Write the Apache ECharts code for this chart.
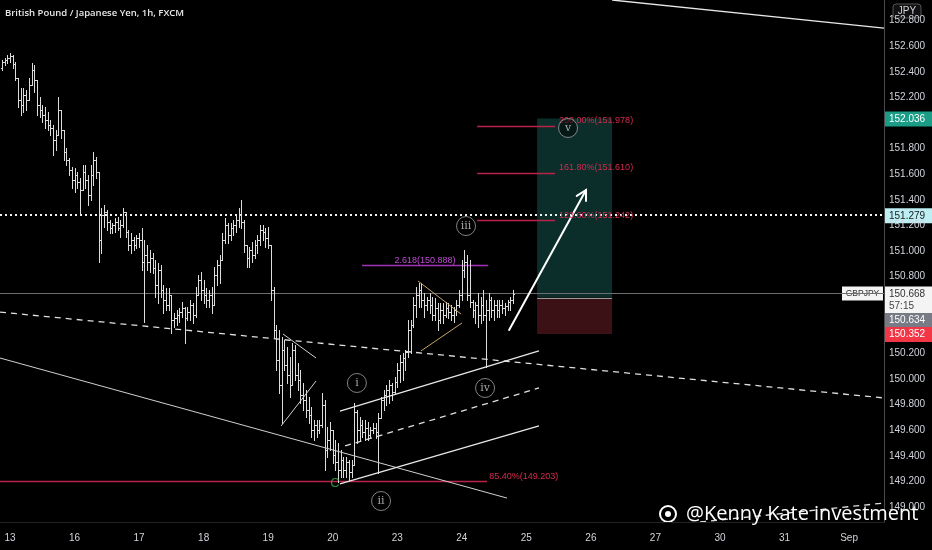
<!DOCTYPE html>
<html><head><meta charset="utf-8">
<script src="https://cdn.jsdelivr.net/npm/echarts@6/dist/echarts.min.js"></script>
<style>html,body{margin:0;padding:0;background:#000;}#c{width:932px;height:550px;}</style>
</head><body><div id="c"></div>
<script>
// ---- data (GBPJPY 1h OHLC) ----
const opens=[152.430,152.477,152.492,152.508,152.523,152.461,152.352,152.180,152.141,152.219,152.180,152.297,152.414,152.336,152.141,152.102,152.063,152.023,151.984,151.961,151.867,151.906,152.102,151.945,151.773,151.711,151.633,151.555,151.594,151.539,151.477,151.617,151.555,151.438,151.594,151.711,151.617,151.086,151.281,151.305,151.227,151.180,151.203,151.227,151.180,151.203,151.305,151.148,151.047,151.086,151.047,151.102,151.086,150.914,150.969,150.914,150.945,150.867,150.734,150.852,150.695,150.617,150.578,150.656,150.461,150.477,150.500,150.523,150.555,150.477,150.523,150.578,150.500,150.656,150.773,150.695,150.656,150.617,150.656,150.578,150.813,150.891,150.930,151.086,151.203,151.125,151.180,151.203,151.242,151.281,151.227,151.047,150.945,151.008,150.969,151.047,151.086,151.164,151.148,151.102,151.047,150.695,150.383,150.148,149.953,150.227,150.109,150.031,149.953,150.227,150.031,149.992,149.875,149.836,149.758,149.719,149.602,149.641,149.602,149.641,149.797,149.445,149.523,149.602,149.406,149.352,149.289,149.367,149.289,149.352,149.273,149.328,149.742,149.602,149.641,149.586,149.617,149.563,149.602,149.617,149.586,149.695,149.836,149.875,149.914,149.953,149.898,149.977,150.070,150.133,150.164,150.211,150.383,150.422,150.578,150.656,150.695,150.617,150.578,150.617,150.578,150.500,150.555,150.461,150.539,150.500,150.555,150.523,150.500,150.539,150.578,150.656,150.852,150.914,150.656,150.602,150.539,150.578,150.500,150.578,150.500,150.539,150.617,150.539,150.578,150.539,150.578,150.555,150.570,150.602,150.617];
const highs=[152.492,152.508,152.531,152.547,152.531,152.477,152.352,152.273,152.273,152.258,152.352,152.469,152.453,152.336,152.203,152.141,152.125,152.086,152.023,151.984,151.945,152.203,152.102,151.945,151.805,151.727,151.656,151.648,151.617,151.570,151.672,151.672,151.594,151.672,151.773,151.734,151.617,151.336,151.359,151.320,151.242,151.219,151.258,151.266,151.242,151.336,151.305,151.164,151.141,151.109,151.125,151.141,151.180,151.086,151.047,151.008,150.984,150.930,150.906,150.891,150.734,150.711,150.711,150.656,150.516,150.539,150.555,150.602,150.563,150.563,150.617,150.594,150.719,150.813,150.836,150.773,150.711,150.695,150.719,150.875,150.930,150.969,151.141,151.258,151.219,151.219,151.242,151.281,151.336,151.398,151.242,151.047,151.031,151.070,151.086,151.125,151.203,151.203,151.180,151.188,151.047,150.719,150.422,150.383,150.328,150.305,150.250,150.172,150.281,150.266,150.125,150.070,149.969,149.914,149.859,149.781,149.680,149.680,149.680,149.891,149.836,149.625,149.664,149.602,149.523,149.500,149.445,149.391,149.391,149.367,149.367,149.813,149.758,149.703,149.680,149.680,149.664,149.625,149.656,149.656,149.734,149.859,149.914,149.953,149.992,149.969,150.016,150.125,150.188,150.203,150.227,150.461,150.461,150.641,150.719,150.750,150.750,150.672,150.641,150.672,150.641,150.633,150.594,150.594,150.594,150.602,150.594,150.578,150.563,150.617,150.695,150.930,151.008,150.969,150.930,150.617,150.602,150.672,150.641,150.695,150.617,150.672,150.641,150.617,150.617,150.617,150.617,150.594,150.617,150.641,150.695];
const lows=[152.414,152.453,152.469,152.477,152.430,152.336,152.125,152.063,152.086,152.102,152.180,152.297,152.242,152.063,152.047,152.008,151.961,151.945,151.906,151.750,151.789,151.906,151.883,151.711,151.672,151.594,151.492,151.461,151.492,151.297,151.477,151.492,151.359,151.398,151.516,151.570,150.914,150.984,151.188,151.164,151.141,151.141,151.148,151.164,151.109,151.188,151.109,151.008,150.984,151.008,151.023,151.031,150.852,150.445,150.852,150.836,150.828,150.641,150.594,150.641,150.516,150.539,150.539,150.359,150.406,150.422,150.445,150.484,150.281,150.461,150.461,150.438,150.484,150.656,150.617,150.594,150.563,150.563,150.516,150.578,150.734,150.750,150.930,151.063,151.063,151.086,151.125,151.148,151.188,151.180,150.992,150.875,150.875,150.914,150.945,150.984,151.047,151.086,151.031,151.023,150.617,150.328,150.070,149.891,149.656,150.070,149.969,149.859,149.953,149.992,149.914,149.813,149.758,149.703,149.656,149.547,149.523,149.547,149.578,149.625,149.289,149.391,149.445,149.344,149.289,149.195,149.234,149.234,149.234,149.211,149.234,149.328,149.500,149.523,149.547,149.523,149.523,149.547,149.578,149.539,149.266,149.695,149.758,149.797,149.813,149.836,149.891,149.938,149.977,149.992,150.070,150.172,150.203,150.406,150.484,150.563,150.563,150.484,150.539,150.516,150.461,150.461,150.383,150.438,150.438,150.484,150.477,150.461,150.445,150.500,150.563,150.617,150.797,150.617,150.563,150.484,150.438,150.406,150.438,150.461,150.094,150.461,150.484,150.461,150.484,150.484,150.516,150.500,150.539,150.539,150.594];
const closes=[152.477,152.492,152.508,152.523,152.461,152.352,152.180,152.141,152.219,152.180,152.297,152.414,152.336,152.141,152.102,152.063,152.023,151.984,151.961,151.867,151.906,152.102,151.945,151.773,151.711,151.633,151.555,151.594,151.539,151.477,151.617,151.555,151.438,151.594,151.711,151.617,151.086,151.281,151.305,151.227,151.180,151.203,151.227,151.180,151.203,151.305,151.148,151.047,151.086,151.047,151.102,151.086,150.914,150.969,150.914,150.945,150.867,150.734,150.852,150.695,150.617,150.578,150.656,150.461,150.477,150.500,150.523,150.555,150.477,150.523,150.578,150.500,150.656,150.773,150.695,150.656,150.617,150.656,150.578,150.813,150.891,150.930,151.086,151.203,151.125,151.180,151.203,151.242,151.281,151.227,151.047,150.945,151.008,150.969,151.047,151.086,151.164,151.148,151.102,151.047,150.695,150.383,150.148,149.953,150.227,150.109,150.031,149.953,150.227,150.031,149.992,149.875,149.836,149.758,149.719,149.602,149.641,149.602,149.641,149.797,149.445,149.523,149.602,149.406,149.352,149.289,149.367,149.289,149.352,149.273,149.328,149.742,149.602,149.641,149.586,149.617,149.563,149.602,149.617,149.586,149.695,149.836,149.875,149.914,149.953,149.898,149.977,150.070,150.133,150.164,150.211,150.383,150.422,150.578,150.656,150.695,150.617,150.578,150.617,150.578,150.500,150.555,150.461,150.539,150.500,150.555,150.523,150.500,150.539,150.578,150.656,150.852,150.914,150.656,150.602,150.539,150.578,150.500,150.578,150.500,150.539,150.617,150.539,150.578,150.539,150.578,150.555,150.570,150.602,150.617,150.668];

// x axis: bar number, day labels
const dayTickBars=[4,28,52,76,100,124,148,172,196,220,244,268,292,316];
const dayLabels=['13','16','17','18','19','20','23','24','25','26','27','30','31','Sep'];
const priceTicks=[149.0,149.2,149.4,149.6,149.8,150.0,150.2,150.8,151.0,151.2,151.4,151.6,151.8,152.2,152.4,152.6,152.8];

// drawings in data space: [bar1, price1, bar2, price2, styleIndex]
const trendLines=[
 [227.9,152.961,329,152.742,0],
 [0.28,150.164,188.8,149.070,1],
 [0.28,150.523,329,149.852,2],
 [126.7,149.750,200.7,150.219,0],
 [128.6,149.477,200.7,149.930,2],
 [126.7,149.180,200.7,149.633,0],
 [105.5,150.352,117.8,150.164,1],
 [104.8,149.633,117.8,149.984,1],
 [155.7,150.766,171.7,150.508,3],
 [156.8,150.219,172.1,150.438,3],
 [260.6,148.883,329,149.031,2]
];
const arrowLine=[[189.6,150.383,218.2,151.477]];
// fib levels: [barStart, barEnd, price, colorIdx]
const fibLines=[[177.7,206.7,151.978,0],[177.7,206.7,151.610,0],[177.7,206.7,151.242,0],[0.28,181.4,149.203,0],[134.9,181.8,150.888,1]];
// fib labels: [bar, price, align(0 left,1 center), colorIdx]
const fibLabelPos=[[207.8,151.978,0,0],[207.8,151.610,0,0],[207.8,151.242,0,0],[181.8,149.203,0,0],[158.3,150.888,1,1]];
const fibLabels=['200.00%(151.978)','161.80%(151.610)','123.60%(151.242)','85.40%(149.203)','2.618(150.888)'];
// long position box: [bar1, priceTop, bar2, priceBottom, colorIdx]
const positionBoxes=[[200.0,152.036,227.9,150.634,0],[200.0,150.634,227.9,150.352,1]];
const waveLabels=[[133.0,149.969,'i'],[141.97,149.047,'ii'],[173.58,151.195,'iii'],[180.65,149.930,'iv'],[211.51,151.961,'v']];
const cLabel=[[124.86,149.188,'C']];
const lastPrice=150.668, markPrice=151.279;

const lineStyles=[
 {stroke:'#e8e8e8',lineWidth:1.3},
 {stroke:'#d0d0d0',lineWidth:1},
 {stroke:'#e0e0e0',lineWidth:1.3,lineDash:[6,5]},
 {stroke:'#c9a46a',lineWidth:1}
];
const fibLineColors=['#b8234a','#a330b8'];
const fibTextColors=['#d42a4e','#c04ad6'];
const boxColors=['#0b2e2a','#3c1115'];

const chart=echarts.init(document.getElementById('c'),null,{renderer:'canvas'});
const ohlc=opens.map((o,i)=>[i+1,o,highs[i],lows[i],closes[i]]);
const crisp=v=>Math.round(v)+0.5;

const markLines=[
 {yAxis:markPrice,lineStyle:{color:'#ffffff',width:2,type:[2,3],opacity:0.95}},
 {yAxis:lastPrice,lineStyle:{color:'#6e6e6e',width:1,type:'solid'}}
].concat(fibLines.map(f=>[
 {coord:[f[0],f[2]],lineStyle:{color:fibLineColors[f[3]],width:1.4,type:'solid',opacity:1}},
 {coord:[f[1],f[2]]}
]));

const option={
 backgroundColor:'#000',
 animation:false,
 title:{text:'British Pound / Japanese Yen, 1h, FXCM',left:5,top:8,padding:0,textStyle:{color:'#e8e8e8',fontSize:9.5,fontWeight:600,fontFamily:'Open Sans'}},
 grid:{left:0,right:48,top:0,bottom:28},
 xAxis:{type:'value',min:0.28,max:329,
  axisLine:{show:true,lineStyle:{color:'#222'}},axisTick:{show:false},splitLine:{show:false},
  axisLabel:{customValues:dayTickBars,formatter:v=>{const k=dayTickBars.indexOf(Math.round(v));return k>=0?dayLabels[k]:'';},color:'#d1d4dc',fontSize:10,margin:11,fontFamily:'Liberation Sans'}},
 yAxis:{type:'value',position:'right',min:148.883,max:152.961,
  axisLine:{show:true,lineStyle:{color:'#4a4a4a'}},axisTick:{show:false},splitLine:{show:false},
  axisLabel:{customValues:priceTicks,formatter:v=>v.toFixed(3),color:'#d1d4dc',fontSize:10,margin:5,fontFamily:'Liberation Sans'}},
 series:[
  {type:'custom',name:'box',data:positionBoxes,clip:true,z:1,
   renderItem:(p,api)=>{const a=api.coord([api.value(0),api.value(1)]);const b=api.coord([api.value(2),api.value(3)]);
    return {type:'rect',shape:{x:a[0],y:a[1],width:b[0]-a[0],height:b[1]-a[1]},style:{fill:boxColors[api.value(4)]}};}},
  {type:'custom',name:'entry',data:[[200.0,150.634,227.9]],clip:true,z:2,
   renderItem:(p,api)=>{const a=api.coord([api.value(0),api.value(1)]);const b=api.coord([api.value(2),api.value(1)]);
    return {type:'line',shape:{x1:a[0],y1:crisp(a[1]),x2:b[0],y2:crisp(a[1])},style:{stroke:'#9a9a9a',lineWidth:1}};}},
  {type:'custom',name:'GBPJPY',data:ohlc,clip:true,z:5,encode:{x:0,y:[1,2,3,4]},
   renderItem:(p,api)=>{const x=api.value(0);
    const po=api.coord([x,api.value(1)]),ph=api.coord([x,api.value(2)]),pl=api.coord([x,api.value(3)]),pc=api.coord([x,api.value(4)]);
    const cx=crisp(po[0]);const st={stroke:'#dcdcdc',lineWidth:1};
    return {type:'group',children:[
     {type:'line',shape:{x1:cx,y1:Math.round(ph[1]),x2:cx,y2:Math.round(pl[1])+1},style:st},
     {type:'line',shape:{x1:cx-1.5,y1:crisp(po[1]),x2:cx,y2:crisp(po[1])},style:st},
     {type:'line',shape:{x1:cx,y1:crisp(pc[1]),x2:cx+1.5,y2:crisp(pc[1])},style:st}]};},
   markLine:{silent:true,symbol:'none',label:{show:false},emphasis:{disabled:true},data:markLines}},
  {type:'custom',name:'trend',data:trendLines,clip:true,z:6,
   renderItem:(p,api)=>{const a=api.coord([api.value(0),api.value(1)]);const b=api.coord([api.value(2),api.value(3)]);
    return {type:'line',shape:{x1:a[0],y1:a[1],x2:b[0],y2:b[1]},style:Object.assign({},lineStyles[api.value(4)])};}},
  {type:'custom',name:'arrow',data:arrowLine,clip:true,z:7,
   renderItem:(p,api)=>{const a=api.coord([api.value(0),api.value(1)]);const b=api.coord([api.value(2),api.value(3)]);
    const ang=Math.atan2(b[1]-a[1],b[0]-a[0]);const L=11,w=0.5;
    const h1=[b[0]-L*Math.cos(ang-w),b[1]-L*Math.sin(ang-w)],h2=[b[0]-L*Math.cos(ang+w),b[1]-L*Math.sin(ang+w)];
    const st={stroke:'#ffffff',lineWidth:2,lineCap:'round'};
    return {type:'group',children:[
     {type:'line',shape:{x1:a[0],y1:a[1],x2:b[0],y2:b[1]},style:st},
     {type:'polyline',shape:{points:[h1,b,h2]},style:Object.assign({fill:null},st)}]};}},
  {type:'custom',name:'fibText',data:fibLabelPos,clip:false,z:8,
   renderItem:(p,api)=>{const a=api.coord([api.value(0),api.value(1)]);
    return {type:'text',x:a[0]+(api.value(2)?0:1),y:a[1]-5,style:{text:fibLabels[p.dataIndex],fill:fibTextColors[api.value(3)],font:'9px "Liberation Sans"',textAlign:api.value(2)?'center':'left',textVerticalAlign:'middle'}};}},
  {type:'scatter',name:'waves',data:waveLabels,z:9,symbol:'circle',symbolSize:19,
   itemStyle:{color:'rgba(0,0,0,0.6)',borderColor:'#a0a0a0',borderWidth:1},
   label:{show:true,position:'inside',formatter:p=>p.data[2],color:'#cfcfcf',fontSize:11,fontFamily:'DejaVu Serif'}},
  {type:'scatter',name:'C',data:cLabel,z:9,symbolSize:1,itemStyle:{color:'rgba(0,0,0,0)'},
   label:{show:true,position:'inside',formatter:p=>p.data[2],color:'#36b24a',fontSize:13,fontFamily:'Liberation Sans'}}
 ]
};
chart.setOption(option);

// price tags on the right axis
const yp=v=>chart.convertToPixel({yAxisIndex:0},v);
const ax=884,tw=48,th=15;
const g=[];
function tag(y,text,bg,fg,h){g.push({type:'group',z:100,children:[
 {type:'rect',shape:{x:ax,y:y,width:tw,height:h||th},style:{fill:bg}},
 {type:'text',x:ax+5,y:y+(h||th)/2,style:{text:text,fill:fg,font:'10px "Liberation Sans"',textVerticalAlign:'middle'}}]});}
tag(yp(152.036)-7,'152.036','#1a9c87','#ffffff');
tag(yp(markPrice)-7,'151.279','#bdeef3','#1a1a1a');
const yl=yp(lastPrice)-7;
g.push({type:'group',z:100,children:[
 {type:'rect',shape:{x:ax,y:yl,width:tw,height:27},style:{fill:'#f4f4f4'}},
 {type:'text',x:ax+5,y:yl+7.5,style:{text:'150.668',fill:'#333',font:'10px "Liberation Sans"',textVerticalAlign:'middle'}},
 {type:'text',x:ax+5,y:yl+20,style:{text:'57:15',fill:'#444',font:'10px "Liberation Sans"',textVerticalAlign:'middle'}},
 {type:'rect',shape:{x:842,y:yl,width:41,height:14},style:{fill:'#f4f4f4'}},
 {type:'text',x:862.5,y:yl+7,style:{text:'GBPJPY',fill:'#333',font:'8.5px "Liberation Sans"',textAlign:'center',textVerticalAlign:'middle'}}]});
tag(yl+27,'150.634','#787b86','#ffffff',14);
tag(yp(150.352)-7,'150.352','#f23645','#ffffff');
g.push({type:'group',z:100,children:[
 {type:'rect',shape:{x:893,y:4,width:28,height:14,r:3},style:{fill:'#111',stroke:'#555',lineWidth:1}},
 {type:'text',x:907,y:11,style:{text:'JPY',fill:'#d1d4dc',font:'10px "Liberation Sans"',textAlign:'center',textVerticalAlign:'middle'}}]});
g.push({type:'text',z:100,x:686,y:514,style:{text:'@Kenny Kate investment',fill:'#ffffff',font:'20px "Open Sans"',textVerticalAlign:'middle',shadowColor:'rgba(0,0,0,0.6)',shadowBlur:3}});
g.push({type:'group',z:100,children:[
 {type:'circle',shape:{cx:668,cy:514,r:8},style:{fill:'none',stroke:'#ffffff',lineWidth:2}},
 {type:'circle',shape:{cx:668,cy:514,r:3},style:{fill:'#ffffff'}}]});
chart.setOption({graphic:g});
</script></body></html>
